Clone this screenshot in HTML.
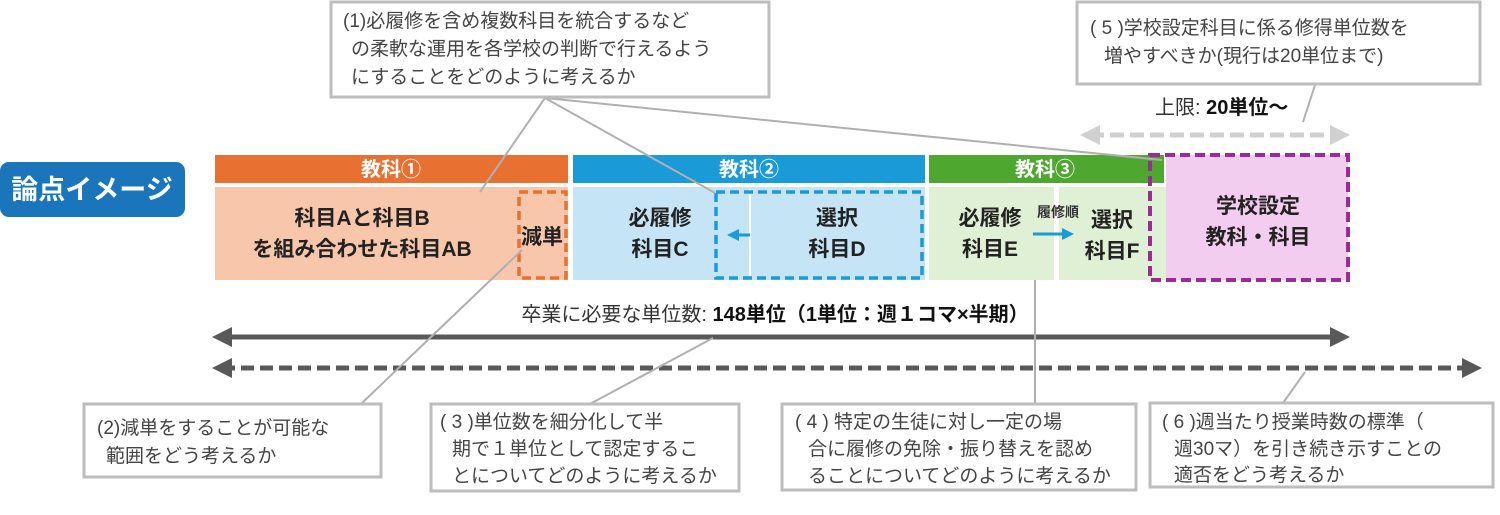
<!DOCTYPE html>
<html><head><meta charset="utf-8"><style>
html,body{margin:0;padding:0;background:#fff;}
svg{display:block;}
text{font-family:"Liberation Sans","Noto Sans CJK JP",sans-serif;}
.q{font-size:19px;fill:#444;}
.b{font-weight:bold;fill:#222;font-size:21px;}
.h{font-weight:bold;fill:#fff;font-size:20px;}
</style></head><body>
<svg width="1500" height="515" viewBox="0 0 1500 515" xmlns="http://www.w3.org/2000/svg">
<defs>
<marker id="ad" markerWidth="4" markerHeight="4" refX="2" refY="2" orient="auto-start-reverse" markerUnits="strokeWidth"><path d="M0,0 L4,2 L0,4 z" fill="#595959"/></marker>
<marker id="al" markerWidth="4" markerHeight="4" refX="2" refY="2" orient="auto-start-reverse" markerUnits="strokeWidth"><path d="M0,0 L4,2 L0,4 z" fill="#d0d0d0"/></marker>
<marker id="ab" markerWidth="4" markerHeight="4" refX="2" refY="2" orient="auto" markerUnits="strokeWidth"><path d="M0,0 L4,2 L0,4 z" fill="#1a9ad6"/></marker>
</defs>

<rect x="0" y="162" width="185" height="55" rx="9" fill="#1b75bb"/>
<text x="92" y="199" text-anchor="middle" font-size="27" font-weight="bold" fill="#fff">論点イメージ</text>

<rect x="215" y="155" width="353" height="28" fill="#e87031"/>
<text x="391" y="176" text-anchor="middle" class="h">教科①</text>
<rect x="573" y="155" width="352" height="28" fill="#1a9ad6"/>
<text x="749" y="176" text-anchor="middle" class="h">教科②</text>
<rect x="929" y="155" width="235" height="28" fill="#4ea72e"/>
<text x="1045" y="176" text-anchor="middle" class="h">教科③</text>

<rect x="215" y="187" width="353" height="93" fill="#f8c6aa"/>
<text x="362" y="225" text-anchor="middle" class="b">科目Aと科目B</text>
<text x="362" y="256" text-anchor="middle" class="b">を組み合わせた科目AB</text>
<rect x="519" y="192" width="47" height="86" fill="none" stroke="#e87031" stroke-width="3.5" stroke-dasharray="9,5"/>
<text x="542" y="244" text-anchor="middle" class="b" font-size="18">減単</text>

<rect x="573" y="187" width="352" height="93" fill="#c5e4f5"/>
<line x1="750" y1="189" x2="750" y2="278" stroke="#fff" stroke-width="2"/>
<text x="660" y="225" text-anchor="middle" class="b">必履修</text>
<text x="660" y="256" text-anchor="middle" class="b">科目C</text>
<text x="837" y="225" text-anchor="middle" class="b">選択</text>
<text x="837" y="256" text-anchor="middle" class="b">科目D</text>
<line x1="750" y1="235" x2="733" y2="235" stroke="#1a9ad6" stroke-width="3" marker-end="url(#ab)"/>
<rect x="716" y="192" width="206" height="86" fill="none" stroke="#1a9ad6" stroke-width="3.5" stroke-dasharray="9,5"/>

<rect x="929" y="187" width="125" height="93" fill="#dff0d5"/>
<rect x="1059" y="187" width="107" height="93" fill="#dff0d5"/>
<text x="990" y="225" text-anchor="middle" class="b">必履修</text>
<text x="990" y="256" text-anchor="middle" class="b">科目E</text>
<text x="1112" y="227" text-anchor="middle" class="b">選択</text>
<text x="1112" y="258" text-anchor="middle" class="b">科目F</text>
<text x="1058" y="217" text-anchor="middle" font-size="14" font-weight="bold" fill="#333">履修順</text>
<line x1="1033" y1="234" x2="1068" y2="234" stroke="#1a9ad6" stroke-width="3" marker-end="url(#ab)"/>

<rect x="1166" y="155" width="182" height="125" fill="#f2cdef"/>
<rect x="1150" y="155" width="198" height="125" fill="none" stroke="#9b2c96" stroke-width="4" stroke-dasharray="10,5"/>
<text x="1258" y="213" text-anchor="middle" class="b">学校設定</text>
<text x="1258" y="244" text-anchor="middle" class="b">教科・科目</text>

<text x="1155" y="114" font-size="20" fill="#333">上限: <tspan font-weight="bold" fill="#111">20単位〜</tspan></text>
<line x1="1090" y1="135" x2="1340" y2="135" stroke="#d0d0d0" stroke-width="5" stroke-dasharray="14,6" marker-start="url(#al)" marker-end="url(#al)"/>

<text x="775" y="321" text-anchor="middle" font-size="20" fill="#333">卒業に必要な単位数: <tspan font-weight="bold" fill="#111">148単位（1単位：週１コマ×半期）</tspan></text>
<line x1="222" y1="337" x2="1340" y2="337" stroke="#595959" stroke-width="5" marker-start="url(#ad)" marker-end="url(#ad)"/>
<line x1="222" y1="368" x2="1472" y2="368" stroke="#595959" stroke-width="5" stroke-dasharray="13,6" marker-start="url(#ad)" marker-end="url(#ad)"/>

<g stroke="#b0b0b0" stroke-width="2" fill="none">
<line x1="545" y1="98" x2="480" y2="192"/>
<line x1="545" y1="98" x2="715" y2="193"/>
<line x1="545" y1="98" x2="1162" y2="160"/>
<line x1="1315" y1="85" x2="1303" y2="122"/>
<line x1="522" y1="250" x2="362" y2="403"/>
<line x1="713" y1="338" x2="588" y2="405"/>
<line x1="1035" y1="280" x2="1035" y2="403"/>
<line x1="1305" y1="372" x2="1283" y2="403"/>
</g>

<g fill="#fff" stroke="#bdbdbd" stroke-width="3">
<rect x="331" y="2" width="438" height="95"/>
<rect x="1077" y="2" width="403" height="82"/>
<rect x="84" y="404" width="297" height="73"/>
<rect x="431" y="404" width="308" height="87"/>
<rect x="782" y="404" width="354" height="86"/>
<rect x="1150" y="403" width="343" height="84"/>
</g>
<text class="q" x="343" y="27">(1)必履修を含め複数科目を統合するなど</text>
<text class="q" x="351" y="55">の柔軟な運用を各学校の判断で行えるよう</text>
<text class="q" x="351" y="83">にすることをどのように考えるか</text>

<text class="q" x="1090" y="34">( 5 )学校設定科目に係る修得単位数を</text>
<text class="q" x="1104" y="62">増やすべきか(現行は20単位まで)</text>

<text class="q" x="97" y="434">(2)減単をすることが可能な</text>
<text class="q" x="106" y="462">範囲をどう考えるか</text>

<text class="q" x="440" y="428">( 3 )単位数を細分化して半</text>
<text class="q" x="452" y="455">期で１単位として認定するこ</text>
<text class="q" x="452" y="482">とについてどのように考えるか</text>

<text class="q" x="795" y="428">( 4 ) 特定の生徒に対し一定の場</text>
<text class="q" x="808" y="455">合に履修の免除・振り替えを認め</text>
<text class="q" x="808" y="482">ることについてどのように考えるか</text>

<text class="q" x="1162" y="428">( 6 )週当たり授業時数の標準（</text>
<text class="q" x="1174" y="455">週30マ）を引き続き示すことの</text>
<text class="q" x="1174" y="481">適否をどう考えるか</text>
</svg>
</body></html>
